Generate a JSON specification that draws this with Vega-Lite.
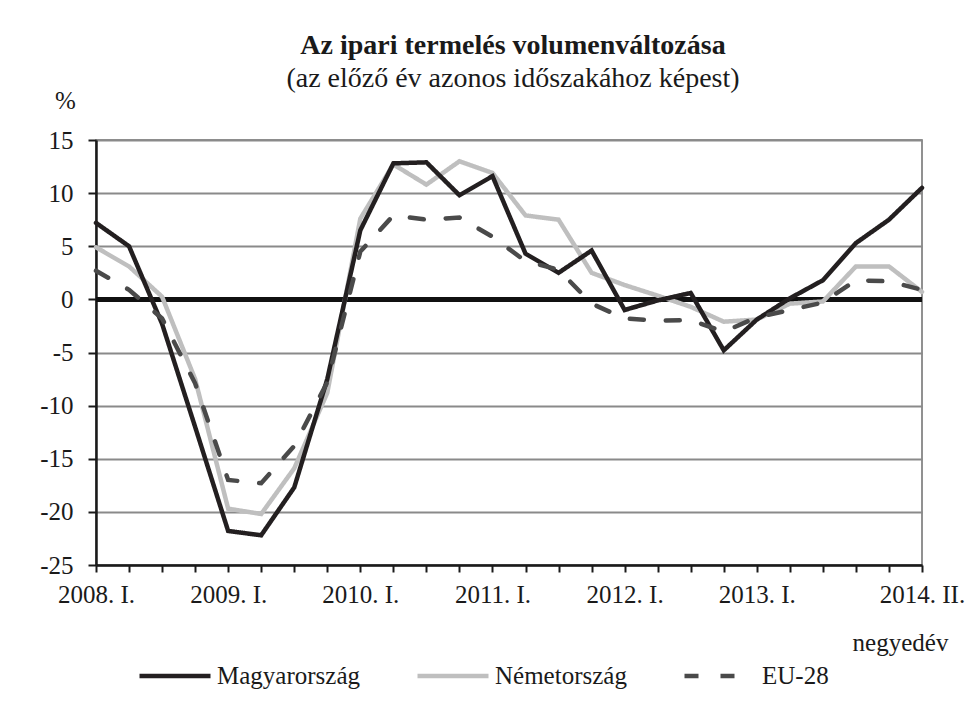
{
  "$schema": "https://vega.github.io/schema/vega-lite/v6.json",
  "width": 826,
  "height": 425,
  "autosize": {"type": "none"},
  "padding": {"left": 96, "top": 140, "right": 58, "bottom": 145},
  "background": "white",
  "title": {
    "text": "Az ipari termelés volumenváltozása",
    "subtitle": "(az előző év azonos időszakához képest)",
    "font": "Liberation Serif",
    "fontSize": 28,
    "fontWeight": "bold",
    "color": "#1a1a1a",
    "subtitleFont": "Liberation Serif",
    "subtitleFontSize": 28,
    "subtitleColor": "#1a1a1a",
    "subtitlePadding": 5,
    "anchor": "middle",
    "dx": 4,
    "offset": -5
  },
  "data": {
    "values": [
      {"q": "2008. I.", "s": "Németország", "v": 4.9},
      {"q": "2008. II.", "s": "Németország", "v": 3.1},
      {"q": "2008. III.", "s": "Németország", "v": 0.25},
      {"q": "2008. IV.", "s": "Németország", "v": -7.5},
      {"q": "2009. I.", "s": "Németország", "v": -19.7},
      {"q": "2009. II.", "s": "Németország", "v": -20.2},
      {"q": "2009. III.", "s": "Németország", "v": -15.9},
      {"q": "2009. IV.", "s": "Németország", "v": -8.8},
      {"q": "2010. I.", "s": "Németország", "v": 7.6},
      {"q": "2010. II.", "s": "Németország", "v": 12.7},
      {"q": "2010. III.", "s": "Németország", "v": 10.8},
      {"q": "2010. IV.", "s": "Németország", "v": 13.0},
      {"q": "2011. I.", "s": "Németország", "v": 11.9},
      {"q": "2011. II.", "s": "Németország", "v": 7.9},
      {"q": "2011. III.", "s": "Németország", "v": 7.5},
      {"q": "2011. IV.", "s": "Németország", "v": 2.5},
      {"q": "2012. I.", "s": "Németország", "v": 1.35},
      {"q": "2012. II.", "s": "Németország", "v": 0.35},
      {"q": "2012. III.", "s": "Németország", "v": -0.7},
      {"q": "2012. IV.", "s": "Németország", "v": -2.1},
      {"q": "2013. I.", "s": "Németország", "v": -1.9},
      {"q": "2013. II.", "s": "Németország", "v": -0.4},
      {"q": "2013. III.", "s": "Németország", "v": -0.2},
      {"q": "2013. IV.", "s": "Németország", "v": 3.1},
      {"q": "2014. I.", "s": "Németország", "v": 3.1},
      {"q": "2014. II.", "s": "Németország", "v": 0.7},
      {"q": "2008. I.", "s": "Magyarország", "v": 7.2},
      {"q": "2008. II.", "s": "Magyarország", "v": 5.0},
      {"q": "2008. III.", "s": "Magyarország", "v": -2.3},
      {"q": "2008. IV.", "s": "Magyarország", "v": -12.0},
      {"q": "2009. I.", "s": "Magyarország", "v": -21.8},
      {"q": "2009. II.", "s": "Magyarország", "v": -22.2},
      {"q": "2009. III.", "s": "Magyarország", "v": -17.7},
      {"q": "2009. IV.", "s": "Magyarország", "v": -7.5},
      {"q": "2010. I.", "s": "Magyarország", "v": 6.5},
      {"q": "2010. II.", "s": "Magyarország", "v": 12.8},
      {"q": "2010. III.", "s": "Magyarország", "v": 12.9},
      {"q": "2010. IV.", "s": "Magyarország", "v": 9.8},
      {"q": "2011. I.", "s": "Magyarország", "v": 11.6},
      {"q": "2011. II.", "s": "Magyarország", "v": 4.3},
      {"q": "2011. III.", "s": "Magyarország", "v": 2.5},
      {"q": "2011. IV.", "s": "Magyarország", "v": 4.6},
      {"q": "2012. I.", "s": "Magyarország", "v": -1.0},
      {"q": "2012. II.", "s": "Magyarország", "v": -0.1},
      {"q": "2012. III.", "s": "Magyarország", "v": 0.6},
      {"q": "2012. IV.", "s": "Magyarország", "v": -4.8},
      {"q": "2013. I.", "s": "Magyarország", "v": -1.9},
      {"q": "2013. II.", "s": "Magyarország", "v": 0.1},
      {"q": "2013. III.", "s": "Magyarország", "v": 1.8},
      {"q": "2013. IV.", "s": "Magyarország", "v": 5.3},
      {"q": "2014. I.", "s": "Magyarország", "v": 7.5},
      {"q": "2014. II.", "s": "Magyarország", "v": 10.5},
      {"q": "2008. I.", "s": "EU-28", "v": 2.7},
      {"q": "2008. II.", "s": "EU-28", "v": 0.9},
      {"q": "2008. III.", "s": "EU-28", "v": -1.8},
      {"q": "2008. IV.", "s": "EU-28", "v": -7.9},
      {"q": "2009. I.", "s": "EU-28", "v": -17.0},
      {"q": "2009. II.", "s": "EU-28", "v": -17.3},
      {"q": "2009. III.", "s": "EU-28", "v": -13.8},
      {"q": "2009. IV.", "s": "EU-28", "v": -7.8},
      {"q": "2010. I.", "s": "EU-28", "v": 4.5},
      {"q": "2010. II.", "s": "EU-28", "v": 7.9},
      {"q": "2010. III.", "s": "EU-28", "v": 7.5},
      {"q": "2010. IV.", "s": "EU-28", "v": 7.7},
      {"q": "2011. I.", "s": "EU-28", "v": 5.9},
      {"q": "2011. II.", "s": "EU-28", "v": 3.6},
      {"q": "2011. III.", "s": "EU-28", "v": 2.8},
      {"q": "2011. IV.", "s": "EU-28", "v": -0.4},
      {"q": "2012. I.", "s": "EU-28", "v": -1.8},
      {"q": "2012. II.", "s": "EU-28", "v": -2.0},
      {"q": "2012. III.", "s": "EU-28", "v": -1.95},
      {"q": "2012. IV.", "s": "EU-28", "v": -3.05},
      {"q": "2013. I.", "s": "EU-28", "v": -1.7},
      {"q": "2013. II.", "s": "EU-28", "v": -1.0},
      {"q": "2013. III.", "s": "EU-28", "v": -0.3},
      {"q": "2013. IV.", "s": "EU-28", "v": 1.8},
      {"q": "2014. I.", "s": "EU-28", "v": 1.7},
      {"q": "2014. II.", "s": "EU-28", "v": 0.9}
    ]
  },
  "layer": [
    {
      "mark": {"type": "rule", "color": "#111111", "strokeWidth": 4.5},
      "encoding": {"y": {"datum": 0, "type": "quantitative"}}
    },
    {
      "mark": {"type": "line", "strokeWidth": 4.5, "strokeCap": "round", "strokeJoin": "miter"},
      "encoding": {
        "x": {
          "field": "q",
          "type": "ordinal",
          "sort": null,
          "scale": {"type": "point", "padding": 0},
          "axis": {
            "title": "negyedév",
            "titleX": 804,
            "titleY": 85,
            "titleAlign": "center",
            "titleBaseline": "alphabetic",
            "titleFont": "Liberation Serif",
            "titleFontSize": 25,
            "titleFontWeight": "normal",
            "titleColor": "#1a1a1a",
            "labelAngle": 0,
            "labelFont": "Liberation Serif",
            "labelFontSize": 25,
            "labelColor": "#1a1a1a",
            "labelPadding": 10,
            "labelOverlap": false,
            "labelFlush": false,
            "labelExpr": "indexof(['2008. I.','2009. I.','2010. I.','2011. I.','2012. I.','2013. I.','2014. II.'], datum.value) >= 0 ? datum.value : ''",
            "tickSize": 7,
            "tickWidth": 2,
            "tickColor": "#1a1a1a",
            "domainColor": "#1a1a1a",
            "domainWidth": 2.5,
            "grid": false
          }
        },
        "y": {
          "field": "v",
          "type": "quantitative",
          "scale": {"domain": [-25, 15], "nice": false, "zero": false},
          "axis": {
            "values": [-25, -20, -15, -10, -5, 0, 5, 10, 15],
            "labelExpr": "toString(datum.value)",
            "title": "%",
            "titleAngle": 0,
            "titleX": -31,
            "titleY": -32,
            "titleAlign": "center",
            "titleBaseline": "alphabetic",
            "titleFont": "Liberation Serif",
            "titleFontSize": 25,
            "titleFontWeight": "normal",
            "titleColor": "#1a1a1a",
            "labelFont": "Liberation Serif",
            "labelFontSize": 25,
            "labelColor": "#1a1a1a",
            "labelPadding": 15,
            "tickSize": 8,
            "tickWidth": 2,
            "tickColor": "#1a1a1a",
            "domainColor": "#1a1a1a",
            "domainWidth": 2.5,
            "grid": true,
            "gridColor": "#8a8a8a",
            "gridWidth": 2
          }
        },
        "color": {
          "field": "s",
          "type": "nominal",
          "scale": {"domain": ["Magyarország", "Németország", "EU-28"], "range": ["#231f20", "#bfbfbf", "#4a4a4a"]},
          "legend": {
            "title": null,
            "orient": "none",
            "legendX": 41,
            "legendY": 498,
            "direction": "horizontal",
            "symbolType": "stroke",
            "symbolSize": 5041,
            "symbolStrokeWidth": 4.5,
            "labelFont": "Liberation Serif",
            "labelFontSize": 25,
            "labelColor": "#1a1a1a",
            "labelOffset": 4,
            "columnPadding": 48,
            "padding": 0
          }
        },
        "strokeDash": {
          "field": "s",
          "type": "nominal",
          "scale": {"domain": ["Magyarország", "Németország", "EU-28"], "range": [[1, 0], [1, 0], [14, 22]]},
          "legend": null
        }
      }
    }
  ],
  "config": {
    "view": {"stroke": "#6e6e6e", "strokeWidth": 1.5}
  }
}
